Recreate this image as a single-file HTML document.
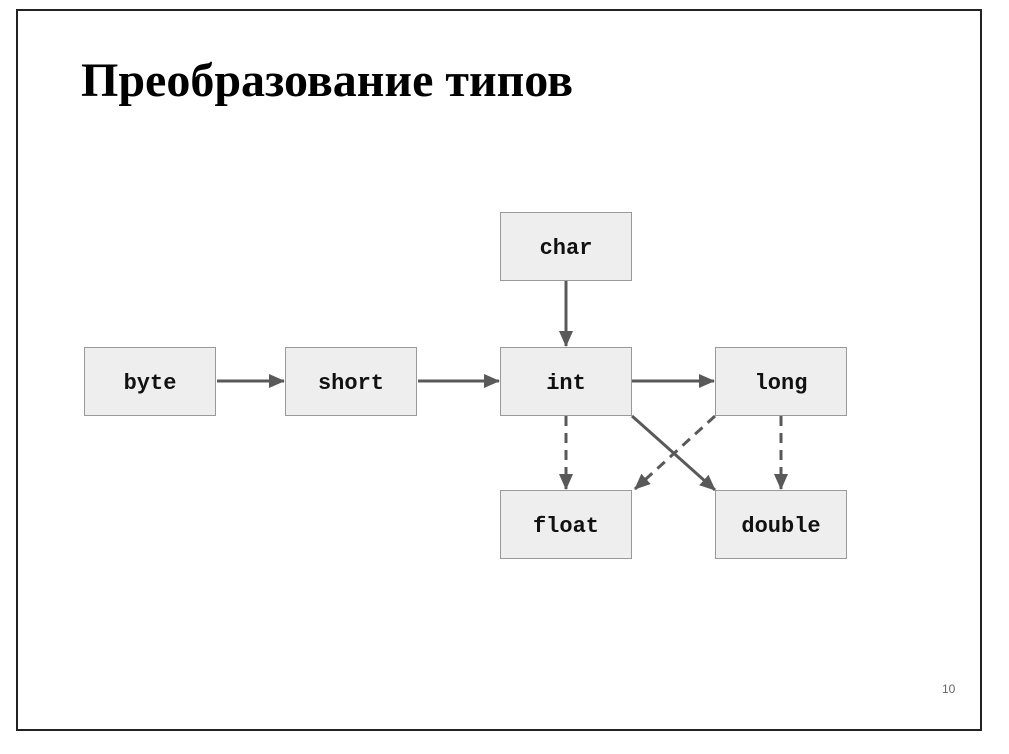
<!DOCTYPE html>
<html><head><meta charset="utf-8"><style>
body{margin:0;width:1009px;height:754px;background:#fff;overflow:hidden;position:relative}
.frame{position:absolute;left:16px;top:9px;width:966px;height:722px;border:2px solid #222;box-sizing:border-box}
.t{position:absolute;left:81px;top:53px;font:bold 48px "Liberation Serif",serif;color:#000;white-space:nowrap}
.b{position:absolute;width:132px;height:69px;background:#eee;border:1px solid #999;box-sizing:border-box;font:bold 22px "Liberation Mono",monospace;display:flex;align-items:center;justify-content:center;color:#111;padding-top:4px}
.n{position:absolute;left:942px;top:682px;font:12px "Liberation Sans",sans-serif;color:#666}
</style></head><body>
<div class="frame"></div>
<div class="t">Преобразование типов</div>
<svg width="1009" height="754" style="position:absolute;left:0;top:0">
<defs><marker id="h" markerWidth="16" markerHeight="14" refX="15" refY="7" orient="auto" markerUnits="userSpaceOnUse"><path d="M0,0L16,7L0,14Z" fill="#595959"/></marker></defs>
<g stroke="#595959" stroke-width="3" fill="none">
<line x1="217" y1="381" x2="284" y2="381" marker-end="url(#h)"/>
<line x1="418" y1="381" x2="499" y2="381" marker-end="url(#h)"/>
<line x1="566" y1="281" x2="566" y2="346" marker-end="url(#h)"/>
<line x1="632" y1="381" x2="714" y2="381" marker-end="url(#h)"/>
<line x1="632" y1="416" x2="715" y2="490" marker-end="url(#h)"/>
<line x1="566" y1="416" x2="566" y2="489" stroke-dasharray="10,7" marker-end="url(#h)"/>
<line x1="781" y1="416" x2="781" y2="489" stroke-dasharray="10,7" marker-end="url(#h)"/>
<line x1="715" y1="416" x2="635" y2="489" stroke-dasharray="10,7" marker-end="url(#h)"/>
</g></svg>
<div class="b" style="left:84px;top:347px">byte</div>
<div class="b" style="left:285px;top:347px">short</div>
<div class="b" style="left:500px;top:347px">int</div>
<div class="b" style="left:500px;top:212px">char</div>
<div class="b" style="left:715px;top:347px">long</div>
<div class="b" style="left:500px;top:490px">float</div>
<div class="b" style="left:715px;top:490px">double</div>
<div class="n">10</div>
</body></html>
